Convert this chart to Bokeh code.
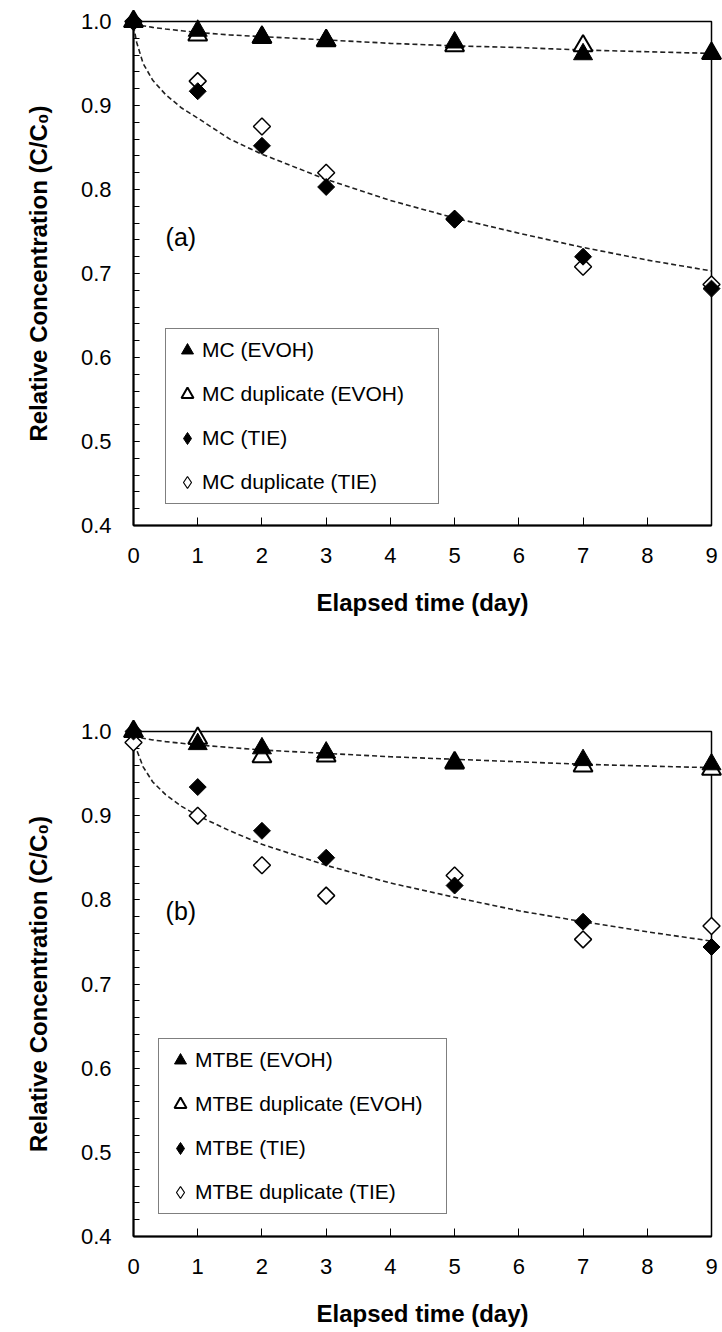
import numpy as np
from bokeh.plotting import figure
from bokeh.layouts import column
from bokeh.models import (Range1d, FixedTicker, PrintfTickFormatter, Legend,
                          LegendItem, Label)
from bokeh.embed import file_html
from bokeh.resources import INLINE

# ---------------- data ----------------
days = [0, 1, 2, 3, 5, 7, 9]

# Panel (a): MC
mc_evoh = [1.000, 0.989, 0.982, 0.978, 0.975, 0.961, 0.962]
mc_evoh_dup = [1.000, 0.984, 0.981, 0.977, 0.971, 0.971, 0.962]
mc_tie = [1.000, 0.917, 0.852, 0.803, 0.764, 0.720, 0.682]
mc_tie_dup = [1.000, 0.929, 0.875, 0.820, 0.765, 0.708, 0.687]

# fitted (dashed) curves
fit_t = [0, 0.05, 0.15, 0.3, 0.5, 0.75, 1, 1.5, 2, 3, 4, 5, 6, 7, 8, 9]
mc_evoh_fit = [0.998, 0.997, 0.995, 0.993, 0.991, 0.989, 0.987, 0.984,
               0.982, 0.978, 0.974, 0.971, 0.969, 0.966, 0.964, 0.962]
mc_tie_fit = [0.995, 0.975, 0.950, 0.930, 0.913, 0.897, 0.885, 0.860,
              0.842, 0.812, 0.787, 0.766, 0.748, 0.731, 0.716, 0.703]

# Panel (b): MTBE
mtbe_evoh = [1.000, 0.985, 0.980, 0.975, 0.962, 0.966, 0.961]
mtbe_evoh_dup = [1.000, 0.992, 0.970, 0.971, 0.963, 0.959, 0.955]
mtbe_tie = [1.000, 0.934, 0.882, 0.850, 0.817, 0.774, 0.744]
mtbe_tie_dup = [0.987, 0.900, 0.841, 0.805, 0.829, 0.753, 0.769]
mtbe_evoh_fit = [0.996, 0.994, 0.992, 0.990, 0.988, 0.986, 0.984, 0.981,
                 0.978, 0.974, 0.970, 0.967, 0.964, 0.961, 0.959, 0.957]
mtbe_tie_fit = [0.995, 0.978, 0.958, 0.940, 0.925, 0.911, 0.900, 0.882,
                0.866, 0.841, 0.820, 0.803, 0.787, 0.774, 0.762, 0.751]

mc_labels = ["MC (EVOH)", "MC duplicate (EVOH)", "MC (TIE)", "MC duplicate (TIE)"]
mtbe_labels = ["MTBE (EVOH)", "MTBE duplicate (EVOH)", "MTBE (TIE)", "MTBE duplicate (TIE)"]

x_ticks = [0, 1, 2, 3, 4, 5, 6, 7, 8, 9]
y_ticks = [0.4, 0.5, 0.6, 0.7, 0.8, 0.9, 1.0]
y_minor = [round(0.4 + 0.02 * i, 2) for i in range(31)]

FONT = "Liberation Sans"


def make_panel(height, border_top, border_bottom, tick_standoff, title_standoff,
               evoh, evoh_dup, tie, tie_dup, evoh_fit, tie_fit,
               labels, tag, tag_y, legend_loc, label_width):
    p = figure(width=722, height=height, x_range=Range1d(0, 9),
               y_range=Range1d(0.4, 1.0), output_backend="svg",
               toolbar_location=None, min_border_left=133,
               min_border_right=11, min_border_top=border_top,
               min_border_bottom=border_bottom,
               background_fill_color="white", border_fill_color="white")
    p.grid.visible = False
    p.outline_line_color = "black"
    p.outline_line_width = 1.5
    p.outline_line_alpha = 1.0

    xa = p.xaxis[0]
    xa.ticker = FixedTicker(ticks=x_ticks)
    xa.major_tick_in = 8
    xa.major_tick_out = 0
    xa.minor_tick_in = 0
    xa.minor_tick_out = 0
    xa.axis_line_width = 2
    xa.major_tick_line_width = 1
    xa.major_label_text_font = FONT
    xa.major_label_text_font_size = "22px"
    xa.major_label_text_color = "black"
    xa.major_label_standoff = tick_standoff
    xa.axis_label = "Elapsed time (day)"
    xa.axis_label_text_font = FONT
    xa.axis_label_text_font_size = "24px"
    xa.axis_label_text_font_style = "bold"
    xa.axis_label_text_color = "black"
    xa.axis_label_standoff = title_standoff

    ya = p.yaxis[0]
    ya.ticker = FixedTicker(ticks=y_ticks, minor_ticks=y_minor)
    ya.formatter = PrintfTickFormatter(format="%.1f")
    ya.major_tick_in = 6
    ya.major_tick_out = 0
    ya.minor_tick_in = 6
    ya.minor_tick_out = 0
    ya.axis_line_width = 2
    ya.major_label_text_font = FONT
    ya.major_label_text_font_size = "22px"
    ya.major_label_text_color = "black"
    ya.major_label_standoff = 22
    ya.axis_label = "Relative Concentration (C/C\u2080)"
    ya.axis_label_text_font = FONT
    ya.axis_label_text_font_size = "24px"
    ya.axis_label_text_font_style = "bold"
    ya.axis_label_text_color = "black"
    ya.axis_label_standoff = 26

    p.line(fit_t, evoh_fit, line_color="#202020", line_width=1.6, line_dash="5 3")
    p.line(fit_t, tie_fit, line_color="#202020", line_width=1.6, line_dash="5 3")

    # diamond-shaped legend glyphs; drawn first so the plot markers cover them
    g4 = p.scatter(days, tie_dup, marker="diamond", size=12,
                   fill_color="white", line_color="black", line_width=1.2)
    g3 = p.scatter(days, tie, marker="diamond", size=12,
                   fill_color="black", line_color="black", line_width=1)

    # duplicates drawn first, filled markers on top (as in the original)
    r2 = p.scatter(days, evoh_dup, marker="triangle", size=19,
                   fill_color="white", line_color="black", line_width=2)
    r1 = p.scatter(days, evoh, marker="triangle", size=19,
                   fill_color="black", line_color="black", line_width=1)
    r4 = p.scatter(days, tie_dup, marker="square", angle=np.pi / 4, size=12,
                   fill_color="white", line_color="black", line_width=1.5)
    r3 = p.scatter(days, tie, marker="square", angle=np.pi / 4, size=12,
                   fill_color="black", line_color="black", line_width=1)
    for r in (g4, g3, r2, r1, r4, r3):
        r.level = "overlay"

    legend = Legend(items=[LegendItem(label=lab, renderers=[r])
                           for lab, r in zip(labels, (r1, r2, g3, g4))],
                    location=legend_loc, orientation="vertical",
                    glyph_width=30, glyph_height=30, spacing=14, padding=6,
                    label_standoff=0, label_width=label_width, margin=0,
                    border_line_color="black", border_line_width=1,
                    background_fill_color="white", background_fill_alpha=1.0,
                    label_text_font=FONT, label_text_font_size="21px",
                    label_text_color="black")
    p.add_layout(legend)

    p.add_layout(Label(x=0.5, y=tag_y, text=tag, text_font=FONT,
                       text_font_size="25px", text_baseline="middle",
                       text_align="left", text_color="black"))
    return p


p1 = make_panel(650, 21, 125, 22, 23, mc_evoh, mc_evoh_dup, mc_tie, mc_tie_dup,
                mc_evoh_fit, mc_tie_fit, mc_labels, "(a)", 0.744, (32, 21), 230)
p2 = make_panel(682, 81, 96, 22, 23, mtbe_evoh, mtbe_evoh_dup, mtbe_tie,
                mtbe_tie_dup, mtbe_evoh_fit, mtbe_tie_fit, mtbe_labels, "(b)",
                0.787, (25, 22), 245)

layout = column(p1, p2, spacing=0)
open("out.html", "w").write(file_html(layout, INLINE))
